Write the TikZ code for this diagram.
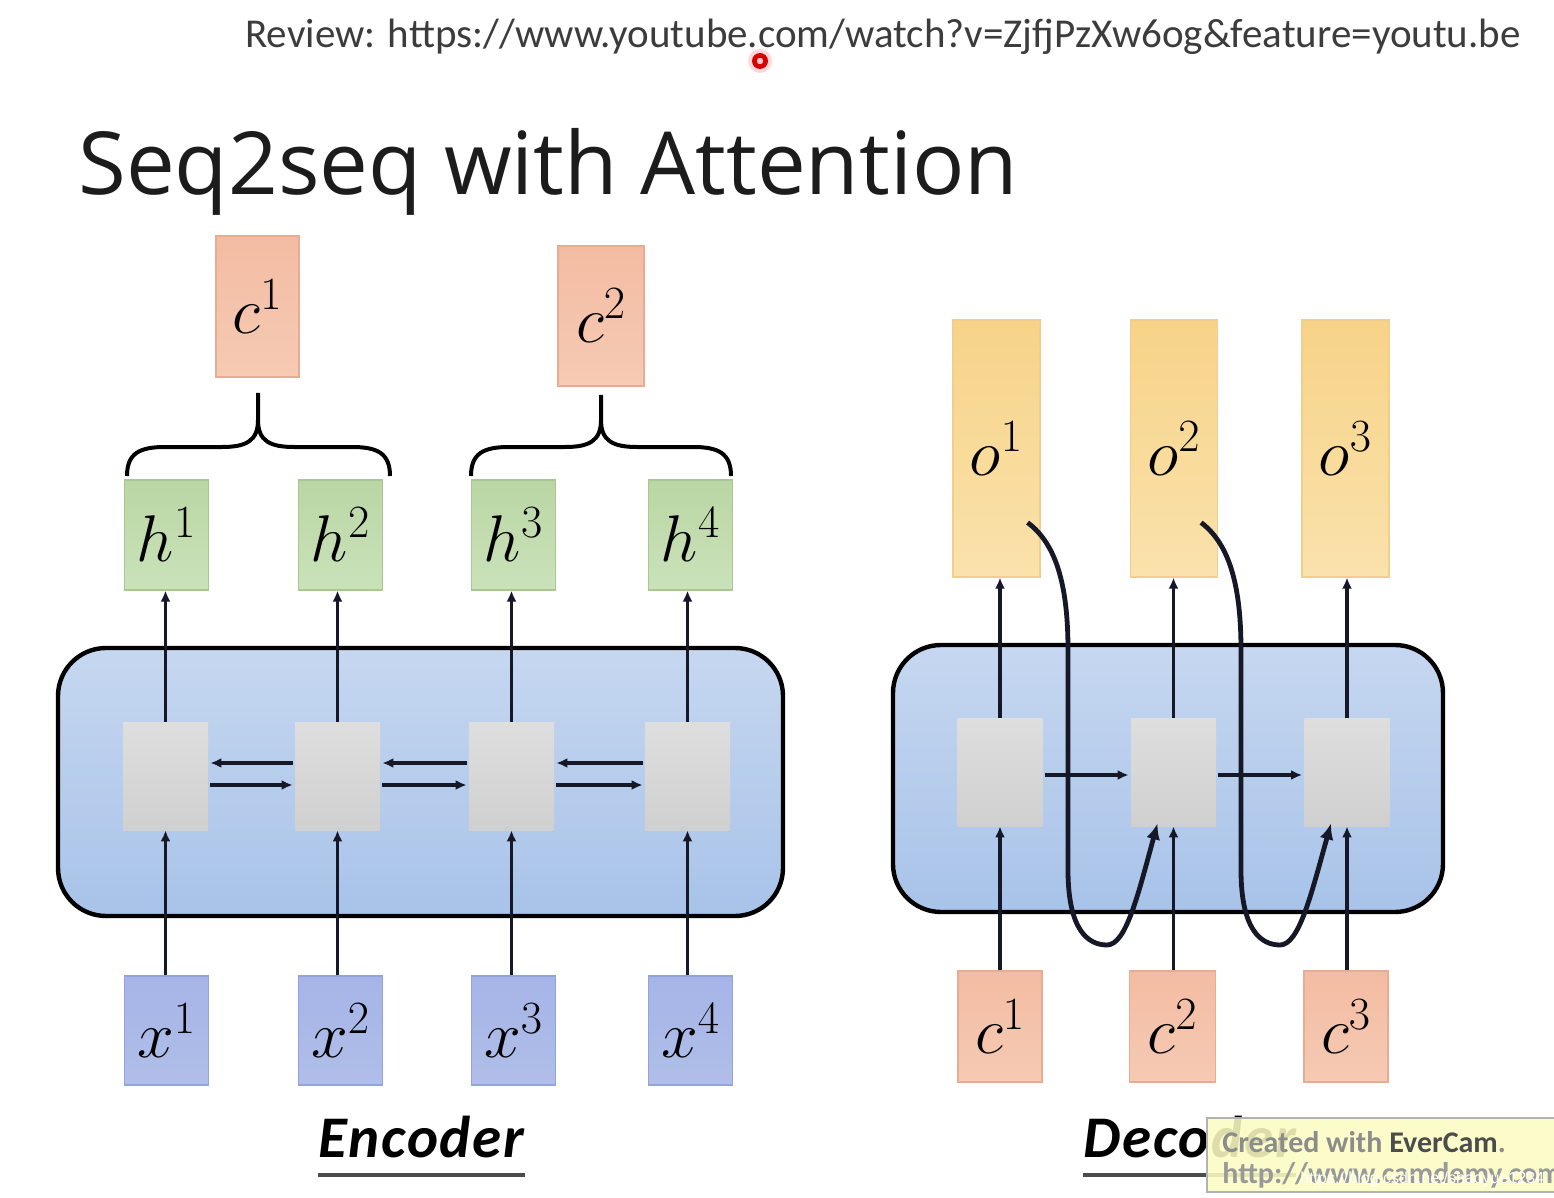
\RequirePackage{fix-cm}
\documentclass[tikz,border=0pt]{standalone}
\usepackage{fontspec}
\setmainfont{Carlito}
\newfontfamily\titlefont{Open Sans}
\newfontfamily\wmfont{Liberation Sans}
\usetikzlibrary{arrows.meta,calc}
\definecolor{arrowc}{RGB}{22,24,40}
\definecolor{ctop}{RGB}{243,188,162}
\definecolor{cbot}{RGB}{246,202,180}
\definecolor{cdraw}{RGB}{232,172,146}
\definecolor{htop}{RGB}{186,214,164}
\definecolor{hbot}{RGB}{202,226,186}
\definecolor{hdraw}{RGB}{168,200,146}
\definecolor{xtop}{RGB}{166,180,232}
\definecolor{xbot}{RGB}{176,190,232}
\definecolor{xdraw}{RGB}{146,164,222}
\definecolor{otop}{RGB}{247,211,136}
\definecolor{obot}{RGB}{250,226,172}
\definecolor{odraw}{RGB}{240,206,140}
\definecolor{gtop}{RGB}{222,222,222}
\definecolor{gbot}{RGB}{208,208,208}
\definecolor{rnntop}{RGB}{198,215,240}
\definecolor{rnnbot}{RGB}{168,195,233}
\definecolor{evy}{RGB}{252,252,196}
\definecolor{revgray}{RGB}{60,60,60}
\definecolor{titlec}{RGB}{28,28,28}
\begin{document}
\begin{tikzpicture}[x=0.5pt,y=-0.5pt,
  arr/.style={line width=1.9pt, draw=arrowc, -{Latex[length=5.5pt,width=5pt]}},
  curvearr/.style={line width=2.4pt, draw=arrowc, -{Latex[length=8pt,width=7pt]}},
  vbox/.style={line width=0.6pt, inner sep=0pt, font=\fontsize{33}{33}\selectfont},
  cbox/.style={vbox, draw=cdraw, top color=ctop, bottom color=cbot},
  hbox/.style={vbox, draw=hdraw, top color=htop, bottom color=hbot, minimum width=42pt, minimum height=55pt},
  xbox/.style={vbox, draw=xdraw, top color=xtop, bottom color=xbot, minimum width=42pt, minimum height=54.5pt},
  obox/.style={vbox, draw=odraw, top color=otop, bottom color=obot, minimum width=43.5pt, minimum height=128.5pt},
  cell/.style={inner sep=0pt, top color=gtop, bottom color=gbot, minimum width=42.5pt, minimum height=54pt},
  rnn/.style={draw=black, line width=2.2pt, rounded corners=24pt, top color=rnntop, bottom color=rnnbot, inner sep=0pt},
  brace/.style={line width=2pt, draw=black},
  lbl/.style={font=\fontsize{29.5}{30}\selectfont\bfseries\itshape\addfontfeatures{LetterSpace=3}, anchor=base west, inner sep=0pt},
]
\useasboundingbox (0,0) rectangle (1554,1198);
\fill[white] (0,0) rectangle (1554,1198);

% header
\node[anchor=base west, inner sep=0pt, text=revgray, font=\fontsize{20.5}{21}\selectfont] (rev) at (245,48) {Review: https://www.youtube.com/watch?v=ZjfjPzXw6og\&feature=youtu.be};
\fill[red!25, opacity=0.6] (760,61) circle (6pt);
\fill[red!85!black] (760,61) circle (4pt);
\fill[white!80!red] (760,61) circle (1.6pt);
\node[anchor=base west, inner sep=0pt, text=titlec, font=\titlefont\fontsize{43.5}{44}\selectfont] (title) at (78,195) {Seq2seq with Attention};

% ================= Encoder =================
\node[rnn, minimum width=362.5pt, minimum height=134pt] (enc) at (420.5,782) {};

\node[cbox, minimum width=41.5pt, minimum height=70.5pt] (ec1) at (257.5,306.5) {$c^1$};
\node[cbox, minimum width=43pt, minimum height=70pt] (ec2) at (601,316) {$c^2$};

\node[hbox] (h1) at (166.5,535) {$h^1$};
\node[hbox] (h2) at (340.5,535) {$h^2$};
\node[hbox] (h3) at (513.5,535) {$h^3$};
\node[hbox] (h4) at (690.5,535) {$h^4$};

\node[cell] (e1) at (165.5,776) {};
\node[cell] (e2) at (337.5,776) {};
\node[cell] (e3) at (511.5,776) {};
\node[cell] (e4) at (687.5,776) {};

\node[xbox] (x1) at (166.5,1030.5) {$x^1$};
\node[xbox] (x2) at (340.5,1030.5) {$x^2$};
\node[xbox] (x3) at (513.5,1030.5) {$x^3$};
\node[xbox] (x4) at (690.5,1030.5) {$x^4$};

\foreach \i in {1,2,3,4}{
  \draw[arr] (e\i.north) -- (e\i.north |- h\i.south);
  \draw[arr] (e\i.south |- x\i.north) -- (e\i.south);
}
\foreach \a/\b in {1/2,2/3,3/4}{
  \draw[arr] ([yshift=6.5pt,xshift=-1pt]e\b.west) -- ([yshift=6.5pt,xshift=1pt]e\a.east);
  \draw[arr] ([yshift=-4.5pt,xshift=1pt]e\a.east) -- ([yshift=-4.5pt,xshift=-1pt]e\b.west);
}

% braces
\draw[brace] (127,476) .. controls (127,453) and (140,447) .. (165,447) -- (222,447)
  .. controls (246,447) and (258,441) .. (258,420) -- (258,393);
\draw[brace] (258,420) .. controls (258,441) and (270,447) .. (294,447) -- (352,447)
  .. controls (377,447) and (390,453) .. (390,476);
\draw[brace] (471,476) .. controls (471,453) and (484,447) .. (509,447) -- (565,447)
  .. controls (589,447) and (601,441) .. (601,420) -- (601,395);
\draw[brace] (601,420) .. controls (601,441) and (613,447) .. (637,447) -- (693,447)
  .. controls (718,447) and (731,453) .. (731,476);

\node[lbl] (enclbl) at (318,1157) {Encoder};
\draw[line width=1.6pt, black!70] ($(enclbl.base west)+(0,18)$) -- ($(enclbl.base east)+(0,18)$);

% ================= Decoder =================
\node[rnn, minimum width=275pt, minimum height=133.5pt] (dec) at (1168,778.5) {};

\node[obox] (o1) at (996.5,448.5) {$o^1$};
\node[obox] (o2) at (1174,448.5) {$o^2$};
\node[obox] (o3) at (1345.5,448.5) {$o^3$};

\node[cell] (d1) at (1000,772) {};
\node[cell] (d2) at (1173.5,772) {};
\node[cell] (d3) at (1347,772) {};

\node[cbox, minimum width=42pt, minimum height=55.5pt] (dc1) at (1000,1026.5) {$c^1$};
\node[cbox, minimum width=43pt, minimum height=55.5pt] (dc2) at (1172.5,1026.5) {$c^2$};
\node[cbox, minimum width=42pt, minimum height=55.5pt] (dc3) at (1346,1026.5) {$c^3$};

\foreach \i in {1,2,3}{
  \draw[arr] (d\i.north) -- (d\i.north |- o\i.south);
  \draw[arr] (d\i.south |- dc\i.north) -- (d\i.south);
}
\draw[arr] ([yshift=-1.5pt,xshift=1pt]d1.east) -- ([yshift=-1.5pt,xshift=-1pt]d2.west);
\draw[arr] ([yshift=-1.5pt,xshift=1pt]d2.east) -- ([yshift=-1.5pt,xshift=-1pt]d3.west);

% attention curves
\draw[curvearr] ($(o1.south east)+(-13,-55)$) .. controls (1058,545) and (1068,590) .. (1068,650)
  -- (1068,870) .. controls (1068,930) and (1088,945) .. (1107,945)
  .. controls (1126,945) and (1138,895) .. ($(d2.south)+(-16,-3)$);
\draw[curvearr] ($(o2.south east)+(-17,-55)$) .. controls (1231,545) and (1241,590) .. (1241,650)
  -- (1241,870) .. controls (1241,930) and (1261,945) .. (1280,945)
  .. controls (1299,945) and (1311,895) .. ($(d3.south)+(-16,-3)$);

\node[lbl] (declbl) at (1083,1157) {Decoder};
\draw[line width=1.6pt, black!70] ($(declbl.base west)+(0,18)$) -- ($(declbl.base east)+(0,18)$);

% EverCam overlay
\begin{scope}
\clip (1200,1110) rectangle (1554,1198);
\fill[evy, fill opacity=0.88] (1207,1118) rectangle (1570,1192);
\draw[black!30, line width=0.8pt] (1570,1118) -- (1207,1118) -- (1207,1192) -- (1570,1192);
\node[anchor=base west, inner sep=0pt, font=\fontsize{15}{15}\selectfont\bfseries] (ev1) at (1222,1152) {\textcolor{black!45}{Created with} \textcolor{black!70}{EverCam}\textcolor{black!45}{.}};
\node[anchor=base west, inner sep=0pt, text=black!40, font=\fontsize{15}{15}\selectfont\bfseries] (ev2) at (1222,1183) {http://www.camdemy.com};
\node[anchor=base west, inner sep=0pt, text=white, font=\wmfont\fontsize{8}{8}\selectfont] (wm) at (1300,1183) {https://blog.csdn.net/shaoyue1234};
\end{scope}
\end{tikzpicture}
\end{document}
